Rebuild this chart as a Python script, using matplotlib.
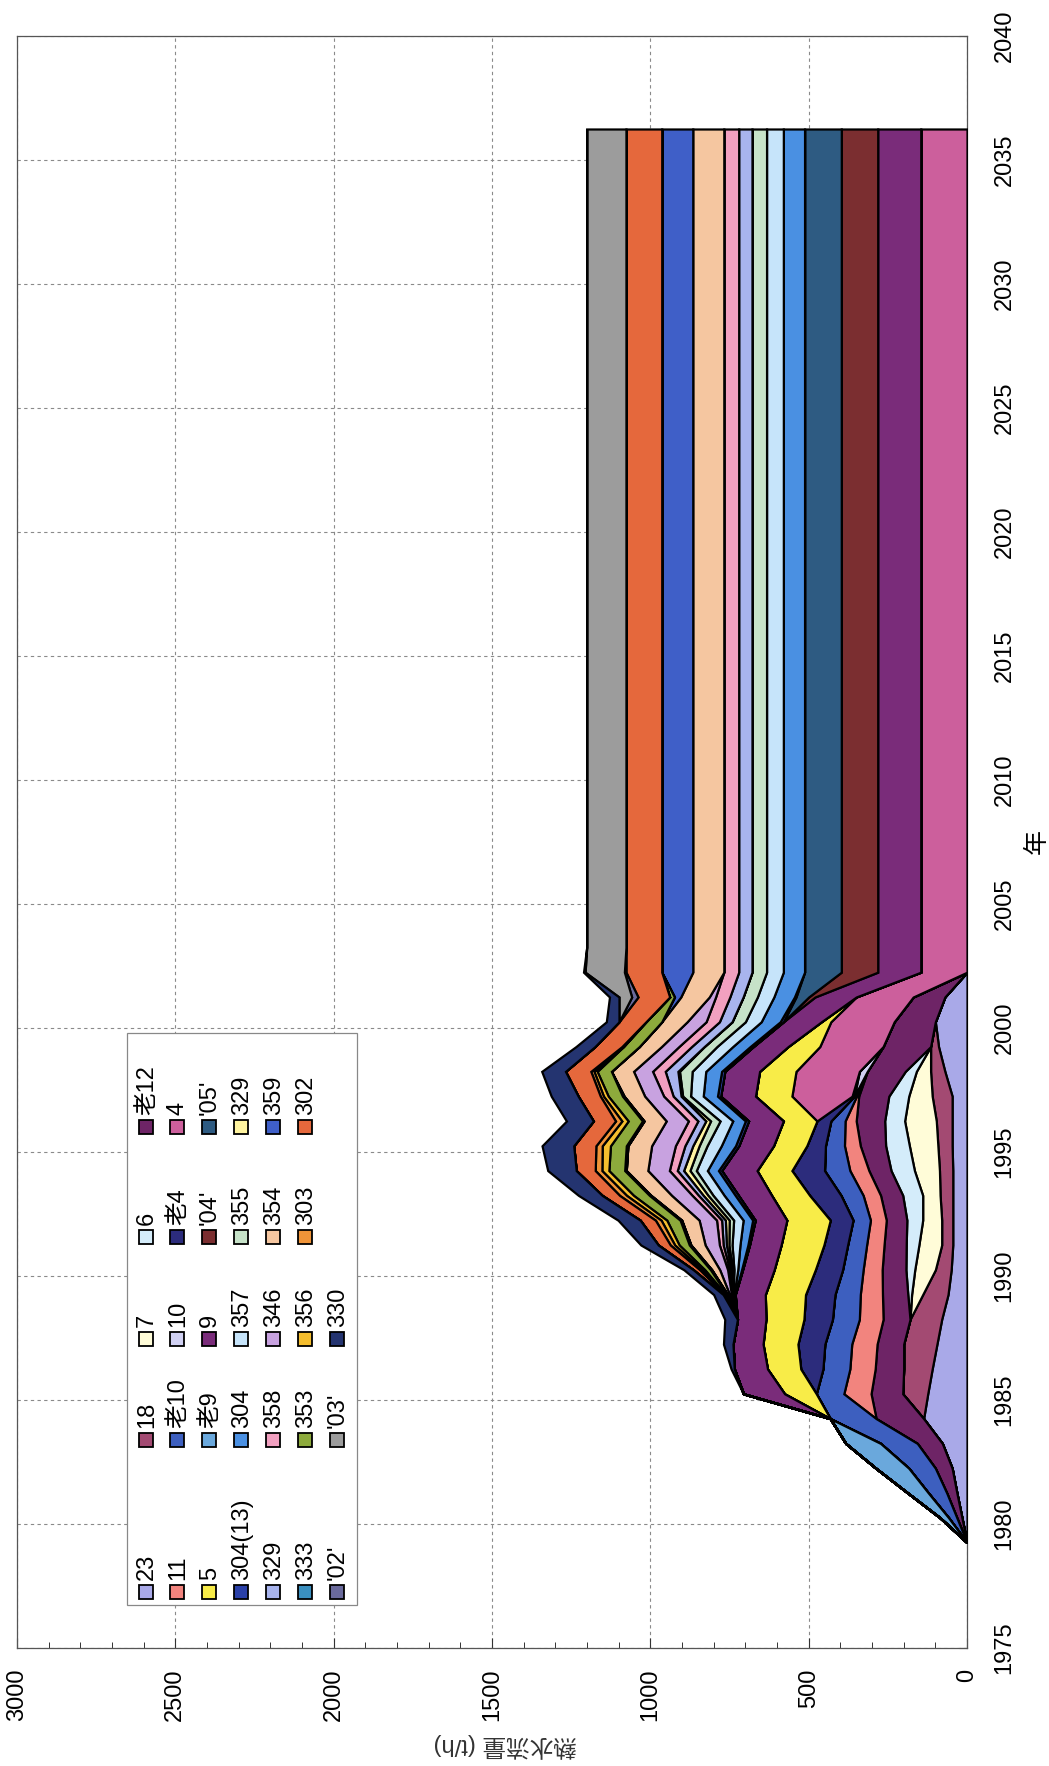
import matplotlib
matplotlib.use("Agg")
import matplotlib.pyplot as plt
import numpy as np
from matplotlib.patches import Rectangle

plt.rcParams['font.family'] = ['Liberation Sans', 'Noto Sans CJK JP', 'DejaVu Sans']

# ---------------------------------------------------------------- data
# fiscal years (annual to 2004, then flat projection to 2036)
years = [1979, 1980, 1981, 1982, 1983, 1984, 1985, 1986, 1987, 1988,
         1989, 1990, 1991, 1992, 1993, 1994, 1995, 1996, 1997, 1998,
         1999, 2000, 2001, 2002, 2003, 2004, 2036]

# hot-water flow per well (t/h), in stacking order
w23     = [0, 16, 32, 47, 78, 137, 124, 110, 95, 80, 60, 50, 45, 45, 45, 45, 47, 47, 47, 70, 90, 100, 70, 0, 0, 0, 0]
w18     = [0, 0, 0, 0, 0, 0, 79, 90, 105, 100, 80, 50, 35, 35, 40, 42, 45, 50, 63, 45, 25, 0, 0, 0, 0, 0, 0]
w7      = [0, 0, 0, 0, 0, 0, 0, 0, 0, 0, 35, 65, 72, 60, 55, 79, 90, 100, 74, 45, 0, 0, 0, 0, 0, 0, 0]
w6      = [0, 0, 0, 0, 0, 0, 0, 0, 0, 0, 12, 28, 40, 50, 63, 74, 75, 63, 63, 35, 0, 0, 0, 0, 0, 0, 0]
old12   = [0, 16, 32, 53, 79, 150, 100, 90, 84, 85, 80, 75, 70, 65, 70, 70, 80, 90, 95, 120, 150, 130, 100, 0, 0, 0, 0]
w11     = [0, 0, 0, 0, 0, 0, 86, 80, 80, 75, 70, 60, 55, 50, 55, 60, 50, 35, 7, 0, 0, 0, 0, 0, 0, 0, 0]
old10   = [0, 26, 58, 84, 116, 145, 87, 85, 85, 85, 80, 65, 60, 55, 70, 80, 60, 45, 7, 0, 0, 0, 0, 0, 0, 0, 0]
w10     = [0, 0, 0, 0, 0, 0, 0, 0, 0, 0, 0, 0, 0, 0, 0, 0, 0, 0, 0, 25, 0, 0, 0, 0, 0, 0, 0]
old4    = [0, 0, 0, 0, 0, 0, 0, 70, 85, 90, 93, 86, 75, 72, 99, 103, 59, 44, 7, 0, 0, 0, 0, 0, 0, 0, 0]
w4      = [0, 0, 0, 0, 0, 0, 0, 0, 0, 0, 0, 0, 0, 0, 0, 0, 0, 0, 190, 200, 200, 200, 180, 146, 146, 146, 146]
w5      = [0, 0, 0, 0, 0, 0, 100, 105, 110, 120, 127, 130, 135, 137, 120, 110, 105, 106, 115, 115, 100, 30, 0, 0, 0, 0, 0]
old9    = [0, 27, 65, 104, 110, 0, 0, 0, 0, 0, 0, 0, 0, 0, 0, 0, 0, 0, 0, 0, 0, 0, 0, 0, 0, 0, 0]
w9      = [0, 0, 0, 0, 0, 0, 130, 105, 95, 90, 95, 100, 100, 100, 105, 112, 110, 110, 110, 110, 110, 120, 130, 136, 136, 136, 136]
w04     = [0, 0, 0, 0, 0, 0, 0, 0, 0, 0, 0, 0, 0, 0, 0, 0, 0, 0, 0, 0, 0, 0, 20, 115, 115, 115, 115]
w05     = [0, 0, 0, 0, 0, 0, 0, 0, 0, 0, 0, 0, 0, 0, 0, 0, 0, 0, 0, 0, 0, 0, 40, 116, 116, 116, 116]
w304_13 = [0, 0, 0, 0, 0, 0, 0, 0, 0, 0, 1, 3, 5, 8, 10, 10, 10, 10, 10, 10, 10, 10, 5, 0, 0, 0, 0]
w304    = [0, 0, 0, 0, 0, 0, 0, 0, 0, 0, 3, 12, 25, 30, 35, 35, 45, 40, 45, 50, 55, 60, 65, 67, 67, 67, 67]
w357    = [0, 0, 0, 0, 0, 0, 0, 0, 0, 0, 3, 12, 25, 30, 35, 35, 45, 40, 40, 43, 50, 50, 52, 53, 53, 53, 53]
w355    = [0, 0, 0, 0, 0, 0, 0, 0, 0, 0, 1, 5, 10, 14, 16, 20, 25, 30, 25, 40, 40, 42, 45, 46, 46, 46, 46]
w329a   = [0, 0, 0, 0, 0, 0, 0, 0, 0, 0, 1, 4, 8, 12, 15, 20, 20, 15, 5, 5, 0, 0, 0, 0, 0, 0, 0]
w329b   = [0, 0, 0, 0, 0, 0, 0, 0, 0, 0, 1, 5, 10, 12, 15, 20, 25, 25, 25, 40, 40, 40, 42, 42, 42, 42, 42]
w358    = [0, 0, 0, 0, 0, 0, 0, 0, 0, 0, 2, 6, 12, 16, 20, 25, 30, 30, 30, 40, 40, 42, 45, 47, 47, 47, 47]
w346    = [0, 0, 0, 0, 0, 0, 0, 0, 0, 0, 6, 25, 45, 55, 65, 68, 75, 70, 60, 60, 55, 60, 20, 0, 0, 0, 0]
w354    = [0, 0, 0, 0, 0, 0, 0, 0, 0, 0, 6, 25, 45, 55, 65, 68, 75, 70, 65, 70, 70, 80, 90, 98, 98, 98, 98]
w359    = [0, 0, 0, 0, 0, 0, 0, 0, 0, 0, 0, 0, 0, 0, 0, 0, 0, 0, 0, 0, 0, 0, 20, 98, 98, 98, 98]
w333    = [0, 0, 0, 0, 0, 0, 0, 0, 0, 0, 2, 4, 5, 5, 5, 5, 5, 5, 5, 0, 0, 0, 0, 0, 0, 0, 0]
w353    = [0, 0, 0, 0, 0, 0, 0, 0, 0, 0, 4, 18, 32, 42, 50, 50, 50, 45, 45, 45, 50, 50, 15, 0, 0, 0, 0]
w356    = [0, 0, 0, 0, 0, 0, 0, 0, 0, 0, 2, 8, 14, 18, 22, 22, 26, 20, 15, 10, 0, 0, 0, 0, 0, 0, 0]
w303    = [0, 0, 0, 0, 0, 0, 0, 0, 0, 0, 2, 8, 14, 18, 22, 21, 20, 20, 10, 10, 5, 0, 0, 0, 0, 0, 0]
w302    = [0, 0, 0, 0, 0, 0, 0, 0, 0, 0, 4, 20, 38, 48, 55, 60, 70, 70, 70, 80, 85, 85, 100, 113, 113, 113, 113]
w02     = [0, 0, 0, 0, 0, 0, 0, 0, 0, 0, 0, 0, 0, 0, 0, 0, 0, 0, 0, 0, 0, 0, 20, 5, 0, 0, 0]
w03     = [0, 0, 0, 0, 0, 0, 0, 0, 0, 0, 0, 0, 0, 0, 0, 0, 0, 0, 0, 0, 0, 0, 40, 124, 124, 124, 124]
w330    = [0, 0, 0, 0, 0, 0, 0, 10, 30, 40, 30, 30, 55, 70, 75, 90, 100, 85, 85, 75, 60, 40, 30, 5, 0, 0, 0]

well_labels = ["23", "18", "7", "6", "老12", "11", "老10", "10", "老4", "4",
               "5", "老9", "9", "'04'", "'05'", "304(13)", "304", "357", "355", "329",
               "329", "358", "346", "354", "359", "333", "353", "356", "303", "302",
               "'02'", "'03'", "330"]
well_values = [w23, w18, w7, w6, old12, w11, old10, w10, old4, w4,
               w5, old9, w9, w04, w05, w304_13, w304, w357, w355, w329a,
               w329b, w358, w346, w354, w359, w333, w353, w356, w303, w302,
               w02, w03, w330]
well_colors = ["#a9a9e8", "#a34a72", "#fffcd8", "#d4ecfa", "#6e2466", "#f2847e", "#3d5fbf", "#d0d0f2", "#2c2c7c", "#cc5f9c",
               "#f8ec48", "#6aa8dc", "#7a2c7a", "#7b2e30", "#2e5b82", "#2a40a8", "#4a90e2", "#c6e4fa", "#c6e2c8", "#fff4a0",
               "#a8b4ee", "#f2a0c0", "#c8a2e0", "#f5c6a0", "#3f5fc8", "#3a8fbf", "#8daa3c", "#f5be2e", "#f09438", "#e5683c",
               "#6a6a9c", "#9c9c9c", "#243470"]

value_ticks = [0, 500, 1000, 1500, 2000, 2500, 3000]
year_ticks = [1975, 1980, 1985, 1990, 1995, 2000, 2005, 2010, 2015, 2020, 2025, 2030, 2035, 2040]
x_title = "年"
y_title = "熱水流量 (t/h)"

# ---------------------------------------------------------------- layout
W, H = 1049, 1766
FY_OFFSET = 0.25   # fiscal year begins in April


def fig_xy(px, py):
    return px / W, 1 - py / H


fig = plt.figure(figsize=(W / 100, H / 100), dpi=100)
ax = fig.add_axes([17 / W, 118 / H, 950 / W, 1612 / H])

# page is printed sideways: values run right-to-left, years run upward
yy = np.array(years, dtype=float) + FY_OFFSET
base = np.zeros(len(years))
for vals, col in zip(well_values, well_colors):
    top = base + np.array(vals, dtype=float)
    ax.fill_betweenx(yy, base, top, facecolor=col, edgecolor="black",
                     linewidth=1.6, joinstyle="miter", zorder=3)
    base = top

ax.set_xlim(3000, 0)
ax.set_ylim(1975, 2040)
ax.set_axisbelow(True)

ax.set_xticks(value_ticks)
ax.set_xticks(np.arange(0, 3001, 100), minor=True)
ax.set_xticklabels([str(v) for v in value_ticks])
ax.set_yticks(year_ticks)
ax.set_yticklabels([str(y) for y in year_ticks])
ax.yaxis.tick_right()

ax.tick_params(axis="x", which="major", direction="in", length=7, width=0.8,
               labelsize=17, labelrotation=90, pad=15, colors="#333333",
               labelcolor="black")
ax.tick_params(axis="x", which="minor", direction="in", length=4, width=0.7,
               colors="#333333")
ax.tick_params(axis="y", which="major", direction="in", length=6, width=0.8,
               labelsize=17, labelrotation=90, pad=19, colors="#333333",
               labelcolor="black", left=False, right=True)
for lab in ax.get_yticklabels():
    lab.set_verticalalignment("center")
    lab.set_horizontalalignment("left")

ax.grid(True, which="major", color="#8a8a8a", linestyle=(0, (3, 3)), linewidth=0.8)
for sp in ax.spines.values():
    sp.set_color("#555555")
    sp.set_linewidth(0.9)

# axis titles
fig.text(*fig_xy(1037, 842), x_title, rotation=90, ha="center", va="center", fontsize=18)
fig.text(*fig_xy(505, 1745), y_title, rotation=180, ha="center", va="center", fontsize=17,
         color="#333333")

# legend box (rows of the original legend appear as columns here)
box_l, box_t, box_r, box_b = 127, 1033, 357, 1605
x0, y0 = fig_xy(box_l, box_b)
x1, y1 = fig_xy(box_r, box_t)
fig.add_artist(Rectangle((x0, y0), x1 - x0, y1 - y0, transform=fig.transFigure,
                         facecolor="white", edgecolor="#888888", linewidth=0.9, zorder=5))

row_x = [146, 177, 209, 241, 273, 305, 337]
col_y = [1592, 1440, 1339, 1237, 1127]
sw = 14
for k, (lab, col) in enumerate(zip(well_labels, well_colors)):
    r, c = divmod(k, 5)
    cx, cy = row_x[r], col_y[c]
    sx, sy = fig_xy(cx - sw / 2, cy + sw / 2)
    fig.add_artist(Rectangle((sx, sy), sw / W, sw / H, transform=fig.transFigure,
                             facecolor=col, edgecolor="black", linewidth=1.3, zorder=6))
    tx, ty = fig_xy(cx + 1, cy - sw / 2 - 5)
    fig.text(tx, ty, lab, rotation=90, ha="center", va="bottom", fontsize=17, zorder=7)

fig.savefig("out.png", dpi=100, facecolor="white")
